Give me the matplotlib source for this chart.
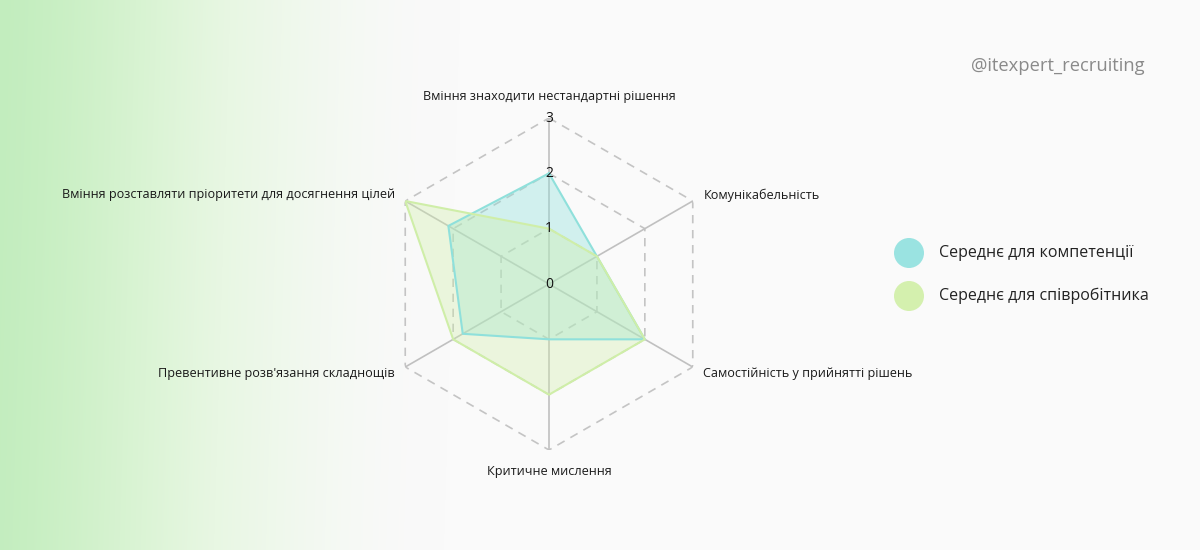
import numpy as np
import matplotlib
matplotlib.use("Agg")
import matplotlib.pyplot as plt
from matplotlib.patches import Circle

# ---- data ----
categories = [
    "Вміння знаходити нестандартні рішення",
    "Комунікабельність",
    "Самостійність у прийнятті рішень",
    "Критичне мислення",
    "Превентивне розв'язання складнощів",
    "Вміння розставляти пріоритети для досягнення цілей",
]
competence = [2, 1, 2, 1, 1.8, 2.1]
employee = [1, 1, 2, 2, 2, 3]
r_ticks = [0, 1, 2, 3]
series_names = ["Середнє для компетенції", "Середнє для співробітника"]
watermark = "@itexpert_recruiting"

FONT = "Open Sans"
plt.rcParams["font.family"] = [FONT, "DejaVu Sans"]

BG = np.array([250, 250, 250]) / 255
GREEN_BG = np.array([194, 237, 190]) / 255
MID_BG = np.array([214, 244, 204]) / 255
TEAL = "#8fe0db"
LIME = "#cfeea8"
TEAL_LEG = "#9ae3e1"
LIME_LEG = "#d4f0ae"

W, H = 1200, 550
fig = plt.figure(figsize=(12, 5.5), dpi=100)
fig.patch.set_facecolor(BG)

# background gradient on the left (pixel image placed directly on the figure)
x = np.arange(W, dtype=float)
y = np.arange(H, dtype=float)
X, Y = np.meshgrid(x, y)
t = np.clip((X + 0.03 * Y) / 460.0, 0, 1)
s = t * t * (3 - 2 * t)  # smoothstep
m = np.clip(t / 0.5, 0, 1)[..., None]
c1 = GREEN_BG[None, None, :] * (1 - m) + MID_BG[None, None, :] * m
img = c1 * (1 - s[..., None]) + BG[None, None, :] * s[..., None]
fig.figimage(img, xo=0, yo=0, origin="upper", zorder=-10)

# radar axes
cx, cy, R = 549, 284, 166
ax = fig.add_axes([(cx - R) / W, (H - cy - R) / H, 2 * R / W, 2 * R / H],
                  projection="polar")
ax.set_facecolor("none")
ax.set_theta_offset(np.pi / 2)
ax.set_theta_direction(-1)
ax.set_ylim(0, 3)
ax.spines["polar"].set_visible(False)
ax.grid(False)
ax.set_xticks([])
ax.set_yticks([])

n = len(categories)
angles = np.linspace(0, 2 * np.pi, n, endpoint=False)
ang_c = np.concatenate([angles, angles[:1]])

# hexagonal dashed grid
for r in r_ticks[1:]:
    ax.plot(ang_c, [r] * (n + 1), color="#c4c4c4", lw=1.2, ls=(0, (5, 4)), zorder=1)
# spokes
for a in angles:
    ax.plot([a, a], [0, r_ticks[-1]], color="#c0c0c0", lw=1.2, zorder=1)

def closed(v):
    return list(v) + [v[0]]

ax.fill(ang_c, closed(competence), color=TEAL, alpha=0.38, lw=0, zorder=2)
ax.plot(ang_c, closed(competence), color=TEAL, lw=1.5, zorder=3)
ax.fill(ang_c, closed(employee), color=LIME, alpha=0.35, lw=0, zorder=2)
ax.plot(ang_c, closed(employee), color=LIME, lw=1.5, zorder=3)

# radial tick labels
for r in r_ticks:
    ax.text(0, r, str(r), ha="center", va="center", fontsize=10,
            color="#111111", zorder=5)

# category labels
label_specs = [
    (0, 3.38, "center", "center"),
    (1, 3.22, "left", "center"),
    (2, 3.22, "left", "center"),
    (3, 3.38, "center", "center"),
    (4, 3.22, "right", "center"),
    (5, 3.22, "right", "center"),
]
for i, rr, ha, va in label_specs:
    ax.text(angles[i], rr, categories[i], ha=ha, va=va, fontsize=9.1,
            color="#1a1a1a", clip_on=False)

# legend
fax = fig.add_axes([0, 0, 1, 1], zorder=5)
fax.set_axis_off()
fax.set_xlim(0, W)
fax.set_ylim(H, 0)
for (yy, col, name) in [(253, TEAL_LEG, series_names[0]), (296, LIME_LEG, series_names[1])]:
    fax.add_patch(Circle((909, yy), 15, color=col, lw=0))
    fax.text(939, yy, name, ha="left", va="center", fontsize=11.5, color="#222222")

fax.text(1144, 66, watermark, ha="right", va="center", fontsize=13.2, color="#8a8a8a")

fig.savefig("out.png", dpi=100, facecolor=fig.get_facecolor())
